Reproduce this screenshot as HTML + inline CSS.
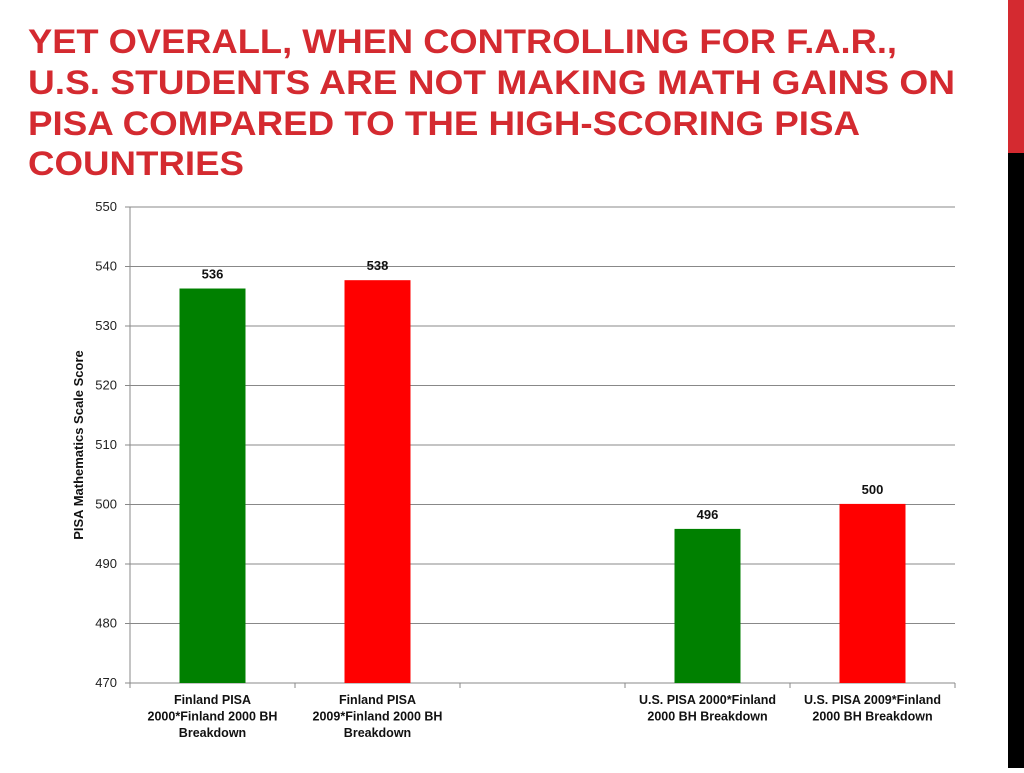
<!DOCTYPE html>
<html><head><meta charset="utf-8"><style>
body{margin:0;width:1024px;height:768px;background:#fff;overflow:hidden;font-family:"Liberation Sans",sans-serif}
</style></head><body>
<svg width="1024" height="768" xmlns="http://www.w3.org/2000/svg">
<rect x="1008" y="0" width="16" height="153" fill="#d42a30"/>
<rect x="1008" y="153" width="16" height="615" fill="#000"/>
<g fill="#d42a30" font-family="'Liberation Sans Narrow','Liberation Sans',sans-serif" font-weight="bold" font-size="34">
<text x="28" y="53" textLength="869" lengthAdjust="spacingAndGlyphs">YET OVERALL, WHEN CONTROLLING FOR F.A.R.,</text>
<text x="28" y="94" textLength="927" lengthAdjust="spacingAndGlyphs">U.S. STUDENTS ARE NOT MAKING MATH GAINS ON</text>
<text x="28" y="135" textLength="832" lengthAdjust="spacingAndGlyphs">PISA COMPARED TO THE HIGH-SCORING PISA</text>
<text x="28" y="175" textLength="216" lengthAdjust="spacingAndGlyphs">COUNTRIES</text>
</g>
<g id="chart"></g>
</svg>
<script>
const categories=[["Finland PISA","2000*Finland 2000 BH","Breakdown"],["Finland PISA","2009*Finland 2000 BH","Breakdown"],["","",""],["U.S. PISA 2000*Finland","2000 BH Breakdown"],["U.S. PISA 2009*Finland","2000 BH Breakdown"]];
const values=[536.3,537.7,null,495.9,500.1];
const valueLabels=["536","538","","496","500"];
const colors=["#008000","#ff0000",null,"#008000","#ff0000"];
const yTicks=[470,480,490,500,510,520,530,540,550];
const NS="http://www.w3.org/2000/svg";
const g=document.getElementById('chart');
const L=130,R=955,T=207,B=683,yMin=470,yMax=550;
const y=v=>B-(v-yMin)/(yMax-yMin)*(B-T);
const slot=(R-L)/categories.length;
const xc=i=>L+slot*(i+0.5);
function el(t,a){const e=document.createElementNS(NS,t);for(const k in a)e.setAttribute(k,a[k]);g.appendChild(e);return e;}
yTicks.forEach(v=>{
 const ln=el('line',{x1:L,x2:R,y1:y(v),y2:y(v),stroke:'#888','stroke-width':1});
 
 
 const tk=el('line',{x1:L-5,x2:L,y1:y(v),y2:y(v),stroke:'#888'});
 
 
 const t=el('text',{x:117,y:y(v)+4,'text-anchor':'end','font-size':13,fill:'#222'});
 t.textContent=v;
 
 
});
const ax=el('line',{x1:L,x2:L,y1:T,y2:B,stroke:'#888'});


for(let i=0;i<=categories.length;i++){
 const tk=el('line',{x1:L+slot*i,x2:L+slot*i,y1:B,y2:B+5,stroke:'#888'});
 
 
}
const bw=66;
values.forEach((v,i)=>{
 if(v!=null){
  const r=el('rect',{x:xc(i)-bw/2,y:y(v),width:bw,height:B-y(v),fill:colors[i]});
  
  
  const t=el('text',{x:xc(i),y:y(v)-10,'text-anchor':'middle','font-size':13,'font-weight':'bold',fill:'#111'});
  t.textContent=valueLabels[i];
  
  
 }
 categories[i].forEach((s,j)=>{
  if(!s)return;
  const t=el('text',{x:xc(i),y:704+j*16.5,'text-anchor':'middle','font-size':12.5,'font-weight':'bold',fill:'#111'});
  t.textContent=s;
  
  
 });
});
const yt=el('text',{x:0,y:0,transform:'translate(83,445) rotate(-90)','text-anchor':'middle','font-size':13,'font-weight':'bold',fill:'#111'});
yt.textContent='PISA Mathematics Scale Score';


</script>
</body></html>
